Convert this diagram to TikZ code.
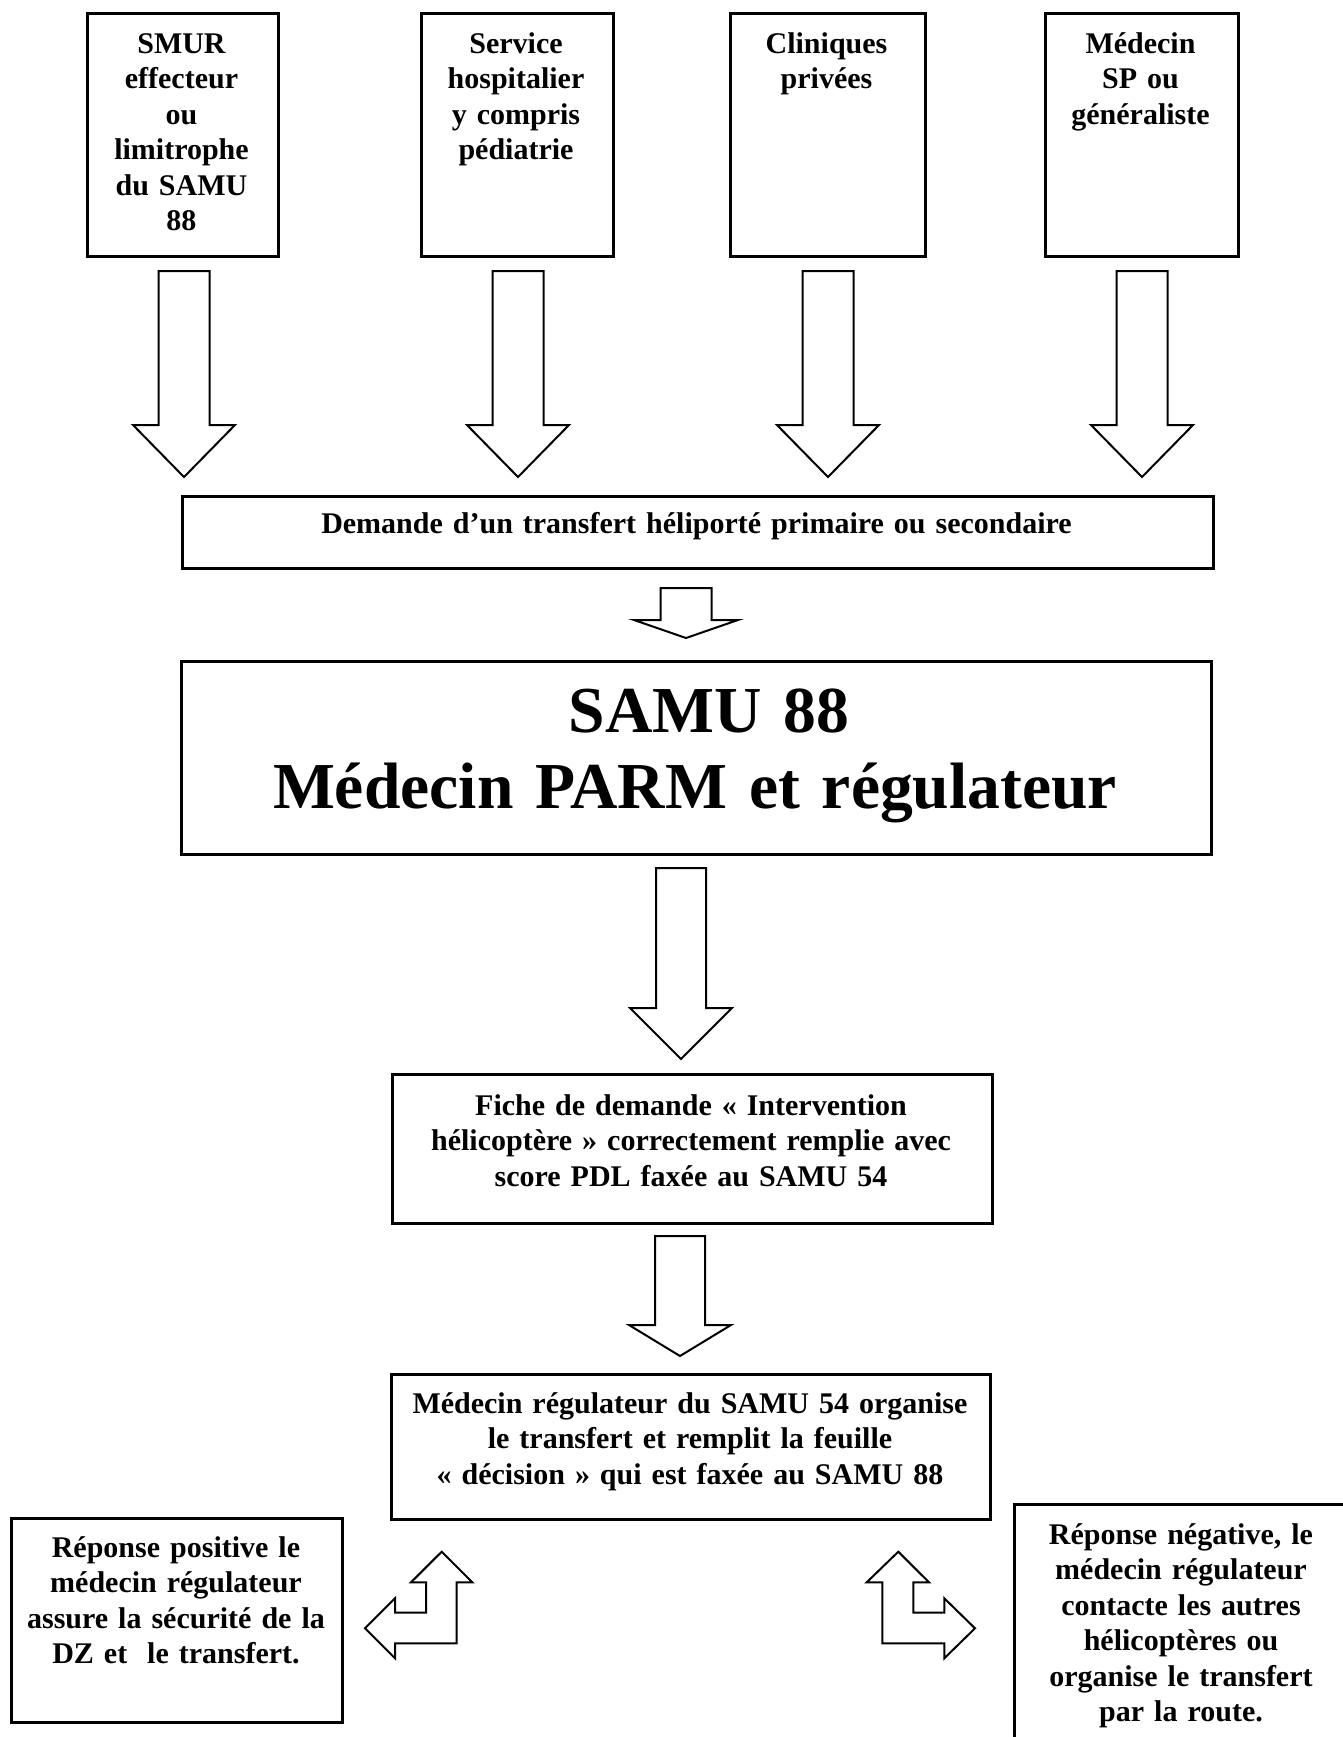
\documentclass[tikz,border=0pt]{standalone}
\usepackage{fontspec}
\setmainfont{Liberation Serif}
\begin{document}
\begin{tikzpicture}[x=0.5pt,y=-0.5pt,
  box/.style={draw, line width=1.4pt, inner sep=0pt, anchor=north west},
  txt/.style={font=\bfseries\fontsize{15}{17.75}\selectfont, align=center, text width=560pt, inner sep=0pt, anchor=base},
  bigtxt/.style={font=\bfseries\fontsize{32.8}{38}\selectfont, align=center, text width=600pt, inner sep=0pt, anchor=base},
  arr/.style={draw, line width=1pt, fill=white, line join=miter}]
\newcommand\blockdown[6]{%
  \draw[arr] ({#1-#5},#2) -- ({#1+#5},#2) -- ({#1+#5},#3) -- ({#1+#6},#3) -- (#1,#4) -- ({#1-#6},#3) -- ({#1-#5},#3) -- cycle;}
\useasboundingbox (0,0) rectangle (1343,1737);
\clip (0,0) rectangle (1343,1737);
\fill[white] (0,0) rectangle (1343,1737);

% top boxes
\node[box, minimum width=95.5pt, minimum height=121.5pt] (b1) at (86,12) {};
\node[box, minimum width=96pt, minimum height=121.5pt] (b2) at (420,12) {};
\node[box, minimum width=97.5pt, minimum height=121.5pt] (b3) at (729,12) {};
\node[box, minimum width=96.5pt, minimum height=121.5pt] (b4) at (1044,12) {};
\node[txt] (t1) at (181.5,53) {SMUR\\effecteur\\ou\\limitrophe\\du SAMU\\88};
\node[txt] (t2) at (516,53) {Service\\hospitalier\\y compris\\pédiatrie};
\node[txt] (t3) at (826.5,53) {Cliniques\\privées};
\node[txt] (t4) at (1140.5,53) {Médecin\\SP ou\\généraliste};

% down arrows from top boxes
\blockdown{184}{271}{425}{477}{25.5}{51}
\blockdown{518}{271}{425}{477}{25.5}{51}
\blockdown{828}{271}{425}{477}{25.5}{51}
\blockdown{1142}{271}{425}{477}{25.5}{51}

% demande
\node[box, minimum width=515.5pt, minimum height=36pt] (dem) at (181,495) {};
\node[txt] (tdem) at (696.5,533) {Demande d’un transfert héliporté primaire ou secondaire};
\blockdown{686}{588}{620}{638}{25.5}{52}

% SAMU 88
\node[box, minimum width=515pt, minimum height=96.5pt] (samu) at (180,660) {};
\node[bigtxt] (tsamu) at (695,732) {\hspace*{14pt}SAMU 88\\Médecin PARM et régulateur};
\blockdown{681}{868}{1008}{1059}{25}{51}

% fiche
\node[box, minimum width=300pt, minimum height=74.5pt] (fiche) at (391,1073) {};
\node[txt] (tfiche) at (691,1115) {Fiche de demande «~Intervention\\hélicoptère~» correctement remplie avec\\score PDL faxée au SAMU 54};
\blockdown{680}{1236}{1325}{1356}{25}{51}

% medecin regulateur
\node[box, minimum width=299.5pt, minimum height=72.5pt] (reg) at (390,1373) {};
\node[txt] (treg) at (690,1413) {Médecin régulateur du SAMU 54 organise\\le transfert et remplit la feuille\\«~décision~» qui est faxée au SAMU 88};

% left result box
\node[box, minimum width=165.5pt, minimum height=102pt] (pos) at (10,1517) {};
\node[txt] (tpos) at (176,1557) {Réponse positive le\\médecin régulateur\\assure la sécurité de la\\DZ et \ le transfert.};

% right result box
\node[box, minimum width=175pt, minimum height=130pt] (neg) at (1013,1503) {};
\node[txt] (tneg) at (1181,1544) {Réponse négative, le\\médecin régulateur\\contacte les autres\\hélicoptères ou\\organise le transfert\\par la route.};

% bent arrows
\draw[arr] (441.7,1551.7) -- (472.3,1582.3) -- (456.7,1582.3) -- (456.7,1643.3) -- (395,1643.3) -- (395,1658.3) -- (365,1628.3) -- (395,1598.3) -- (395,1612.7) -- (426,1612.7) -- (426,1582.3) -- (411,1582.3) -- cycle;
\draw[arr] (898.3,1551.7) -- (929,1582.3) -- (913.3,1582.3) -- (913.3,1612.7) -- (944.3,1612.7) -- (944.3,1598.3) -- (975,1628.3) -- (944.3,1658.3) -- (944.3,1643.3) -- (882.3,1643.3) -- (882.3,1582.3) -- (866.7,1582.3) -- cycle;
\end{tikzpicture}
\end{document}
